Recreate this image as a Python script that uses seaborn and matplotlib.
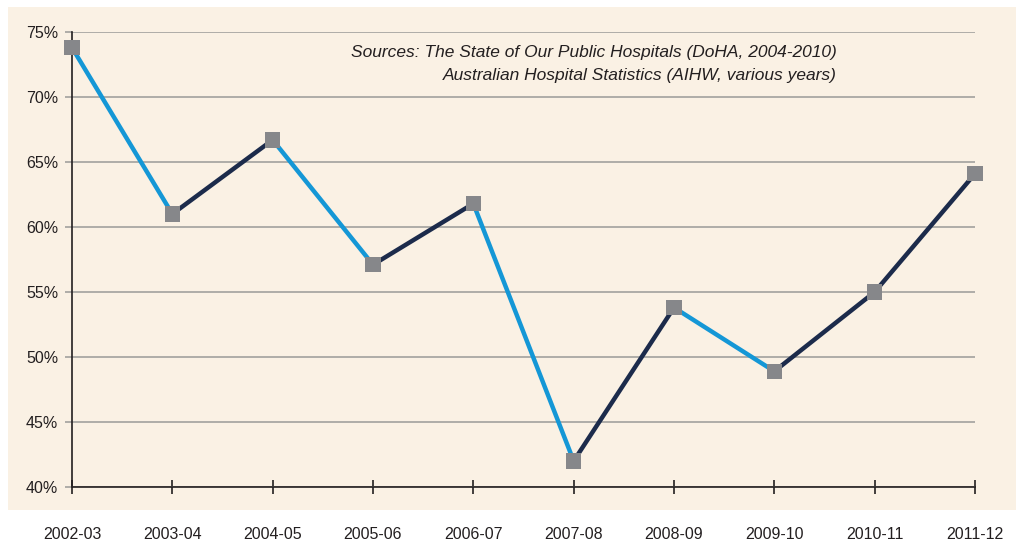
import numpy as np
import pandas as pd
import matplotlib
matplotlib.use("Agg")
import matplotlib.pyplot as plt
import seaborn as sns
from matplotlib.patches import Rectangle

years = ["2002-03", "2003-04", "2004-05", "2005-06", "2006-07",
         "2007-08", "2008-09", "2009-10", "2010-11", "2011-12"]
share = [73.8, 61.0, 66.7, 57.1, 61.8, 42.0, 53.8, 48.9, 55.0, 64.1]
y_ticks = [40, 45, 50, 55, 60, 65, 70, 75]

col_down = "#1497d6"
col_up = "#1c2b4b"
col_marker = "#86878a"
col_bg = "#faf1e4"
col_grid = "#a9a7a3"

sns.set_style("white")
plt.rcParams["font.family"] = ["Liberation Sans Narrow", "Liberation Sans", "DejaVu Sans"]

df = pd.DataFrame({"pos": np.arange(len(years)), "year": years, "share": share})

W, H = 1016, 544
fig = plt.figure(figsize=(W / 100, H / 100), dpi=100, facecolor="white")
# cream panel behind the plot
fig.patches.append(Rectangle((8 / W, 1 - 510 / H), (W - 8) / W, (510 - 7) / H,
                             transform=fig.transFigure, facecolor=col_bg,
                             edgecolor="none", zorder=-5))

ax = fig.add_axes([72 / W, 1 - 487 / H, (975 - 72) / W, (487 - 32) / H])
ax.set_facecolor("none")
ax.set_zorder(2)

# one segment at a time: falling = light blue, rising = navy
for i in range(len(df) - 1):
    seg = df.iloc[i:i + 2]
    c = col_down if seg["share"].iloc[1] < seg["share"].iloc[0] else col_up
    sns.lineplot(data=seg, x="pos", y="share", color=c, linewidth=3.2,
                 ax=ax, zorder=3, clip_on=False)

sns.scatterplot(data=df, x="pos", y="share", marker="s", s=120,
                color=col_marker, edgecolor="none", ax=ax, zorder=4, clip_on=False)

ax.set_xlim(0, len(years) - 1)
ax.set_ylim(40, 75)
ax.set_yticks(y_ticks)
ax.set_yticklabels([f"{t}%" for t in y_ticks], fontsize=11.5, color="#231f20")
ax.set_xticks(df["pos"])
ax.set_xticklabels(years, fontsize=11.5, color="#231f20")
ax.set_xlabel("")
ax.set_ylabel("")

ax.yaxis.grid(True, color=col_grid, linewidth=1.3)
ax.set_axisbelow(True)
ax.tick_params(axis="y", left=True, length=5, width=1.3, color=col_grid, pad=5)
ax.tick_params(axis="x", bottom=True, direction="inout", length=10, width=1.2,
               color="#231f20", pad=24)

for s in ["top", "right"]:
    ax.spines[s].set_visible(False)
ax.spines["left"].set_color("#231f20")
ax.spines["bottom"].set_color("#231f20")
ax.spines["left"].set_linewidth(1.2)
ax.spines["bottom"].set_linewidth(1.2)

ax.text(0.847, 0.972, "Sources: The State of Our Public Hospitals (DoHA, 2004-2010)\n"
        "Australian Hospital Statistics (AIHW, various years)",
        transform=ax.transAxes, ha="right", va="top", style="italic",
        fontsize=12.5, color="#231f20", linespacing=1.7, multialignment="right")

fig.savefig("out.png", dpi=100, facecolor="white")
